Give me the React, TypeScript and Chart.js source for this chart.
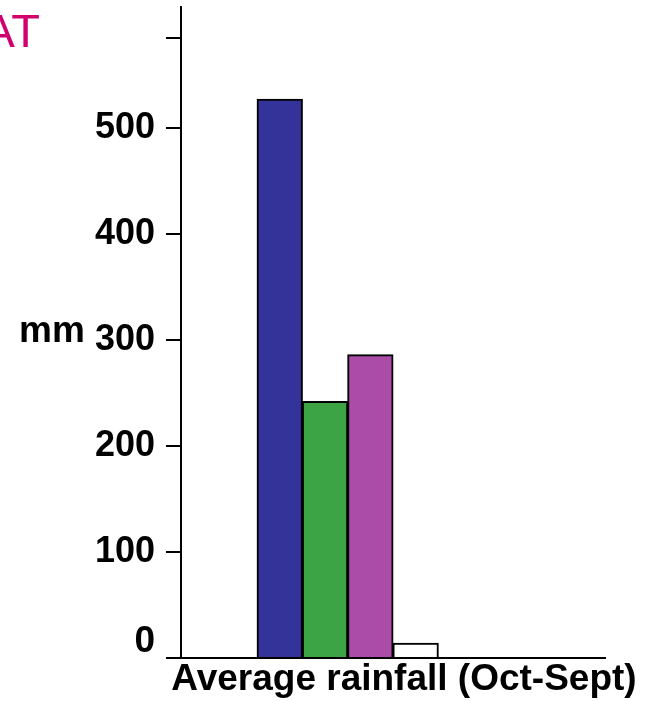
import React, { useEffect, useRef } from "react";
import { Chart, registerables } from "chart.js";

Chart.register(...registerables);

const categories = ["Average rainfall (Oct-Sept)"];
const seriesValues = [527, 242, 286, 14];
const seriesColors = ["#333399", "#3DA446", "#AA4CA8", "#FFFFFF"];
const tickValues = [0, 100, 200, 300, 400, 500];
const topTick = 585;
const axisMax = 614;
const yUnit = "mm";
const titleText = "AT";

const FONT = "'Liberation Sans', Arial, sans-serif";

const textPlugin = {
  id: "extraText",
  afterDraw(chart: any) {
    const ctx = chart.ctx;
    const ys = chart.scales.y;
    ctx.save();
    ctx.fillStyle = "#000";
    ctx.font = `bold 37px ${FONT}`;
    ctx.textAlign = "left";
    ctx.textBaseline = "alphabetic";
    const y300 = ys.getPixelForValue(300);
    ctx.fillText(yUnit, 19, y300 + 2);
    // zero label sits just above the baseline in the original
    ctx.textAlign = "right";
    ctx.textBaseline = "middle";
    ctx.fillText(String(tickValues[0]), 155, ys.getPixelForValue(0) - 16);
    ctx.fillStyle = "#D1006E";
    ctx.font = `47px ${FONT}`;
    ctx.textAlign = "right";
    ctx.textBaseline = "alphabetic";
    ctx.fillText(titleText, 40, 47);
    ctx.restore();
  },
};

export default function App() {
  const ref = useRef<HTMLCanvasElement | null>(null);
  useEffect(() => {
    document.body.style.margin = "0";
    const datasets: any[] = seriesValues.map((v, i) => ({
      label: "s" + i,
      data: [v],
      backgroundColor: seriesColors[i],
      borderColor: "#000",
      borderWidth: 2,
      borderSkipped: "bottom",
      inflateAmount: 0.5,
    }));
    // two empty slots in the group (present in the original layout)
    datasets.push({ label: "e1", data: [null] });
    datasets.push({ label: "e2", data: [null] });
    const chart = new Chart(ref.current as HTMLCanvasElement, {
      type: "bar",
      data: { labels: categories, datasets },
      plugins: [textPlugin],
      options: {
        animation: false,
        responsive: false,
        maintainAspectRatio: false,
        layout: { padding: { top: 7, right: 48, left: 0, bottom: 0 } },
        plugins: { legend: { display: false }, tooltip: { enabled: false }, title: { display: false } },
        datasets: { bar: { categoryPercentage: 0.641, barPercentage: 1 } },
        scales: {
          x: {
            grid: { display: false, drawTicks: false },
            border: { display: true, color: "#000", width: 2 },
            ticks: {
              color: "#000",
              font: { family: FONT, size: 37, weight: "bold" },
              padding: 0,
              labelOffset: 11,
              maxRotation: 0,
              autoSkip: false,
            },
            afterFit: (s: any) => {
              s.height = 43;
              s.paddingLeft = 0;
              s.paddingRight = 0;
            },
          },
          y: {
            min: 0,
            max: axisMax,
            grid: {
              drawOnChartArea: false,
              drawTicks: true,
              tickLength: 15,
              color: "#000",
              lineWidth: 2,
            },
            border: { display: true, color: "#000", width: 2 },
            afterBuildTicks: (s: any) => {
              s.ticks = [...tickValues, topTick].map((v) => ({ value: v }));
            },
            ticks: {
              color: "#000",
              font: { family: FONT, size: 36, weight: "bold" },
              padding: 11,
              callback: (v: any) => (v === topTick || v === 0 ? "" : String(v)),
            },
            afterFit: (s: any) => {
              s.width = 181;
              s.paddingTop = 0;
              s.paddingBottom = 0;
            },
          },
        },
      } as any,
    });
    return () => chart.destroy();
  }, []);
  return (
    <div style={{ position: "absolute", left: 0, top: 0, width: 653, height: 701 }}>
      <canvas ref={ref} width={653} height={701} style={{ width: 653, height: 701, display: "block" }} />
    </div>
  );
}
